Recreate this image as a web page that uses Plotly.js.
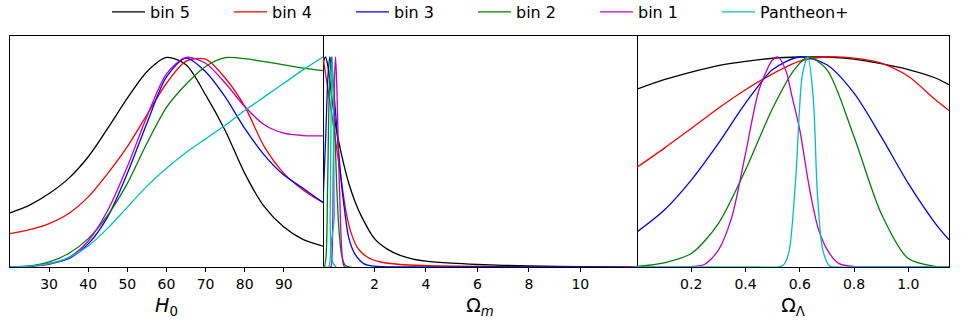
<!DOCTYPE html>
<html>
<head>
<meta charset="utf-8">
<script src="https://cdn.plot.ly/plotly-3.0.1.min.js"></script>
<style>
  html, body { margin: 0; padding: 0; background: #fff; }
  #chart { width: 963px; height: 335px; }
</style>
</head>
<body>
<div id="chart"></div>
<script>
// series names and colours (legend order)
const seriesNames = ['bin 5', 'bin 4', 'bin 3', 'bin 2', 'bin 1', 'Pantheon+'];
const seriesColors = ['#000000', '#ff0000', '#0000ff', '#008000', '#bf00bf', '#00bfbf'];

// H0 panel, read on a common grid
const h0Grid = [20, 25, 30, 35, 40, 45, 50, 55, 60, 65, 70, 75, 80, 85, 90, 95, 100];
const h0Bin5 = [0.258, 0.295, 0.35, 0.422, 0.525, 0.661, 0.804, 0.93, 0.998, 0.963, 0.82, 0.65, 0.446, 0.287, 0.19, 0.13, 0.099];
const h0Bin4 = [0.159, 0.178, 0.207, 0.255, 0.334, 0.446, 0.573, 0.725, 0.875, 0.98, 0.99, 0.9, 0.765, 0.573, 0.446, 0.366, 0.307];
const h0Bin3 = [0, 0.003, 0.016, 0.04, 0.11, 0.24, 0.446, 0.685, 0.905, 0.995, 0.93, 0.81, 0.66, 0.533, 0.438, 0.374, 0.307];
const h0Bin2 = [0, 0.005, 0.024, 0.064, 0.135, 0.247, 0.398, 0.589, 0.76, 0.87, 0.955, 0.997, 0.992, 0.978, 0.963, 0.947, 0.935];
const h0Bin1 = [0, 0.003, 0.013, 0.045, 0.124, 0.27, 0.478, 0.717, 0.92, 0.998, 0.97, 0.876, 0.764, 0.677, 0.637, 0.626, 0.624];
const h0Pantheon = [0, 0.004, 0.016, 0.045, 0.1, 0.185, 0.285, 0.385, 0.47, 0.545, 0.61, 0.675, 0.745, 0.81, 0.875, 0.94, 1.0];
const h0Ticks = [30, 40, 50, 60, 70, 80, 90];

// Omega_m panel
const omX5 = [0, 0.1, 0.2, 0.35, 0.5, 0.75, 1.0, 1.25, 1.5, 2.0, 2.5, 3.0, 3.5, 4, 5, 6, 7, 8, 10, 12.2];
const omY5 = [0.97, 1.0, 0.95, 0.8, 0.67, 0.52, 0.4, 0.31, 0.24, 0.135, 0.085, 0.055, 0.038, 0.028, 0.018, 0.012, 0.008, 0.005, 0.002, 0.001];
const omX4 = [0, 0.15, 0.35, 0.55, 0.75, 0.9, 1.1, 1.35, 1.75, 2.2, 3, 4, 6, 8, 12.2];
const omY4 = [1.0, 0.88, 0.72, 0.55, 0.38, 0.26, 0.16, 0.09, 0.045, 0.025, 0.012, 0.007, 0.003, 0.001, 0];
const omX3 = [0, 0.1, 0.2, 0.27, 0.35, 0.5, 0.6, 0.75, 0.8, 1.0, 1.25, 1.6, 2, 3, 12.2];
const omY3 = [0.3, 0.6, 0.92, 1.0, 0.93, 0.72, 0.56, 0.36, 0.31, 0.14, 0.06, 0.015, 0.004, 0, 0];
const omX2 = [0, 0.05, 0.12, 0.18, 0.25, 0.33, 0.42, 0.53, 0.62, 0.72, 0.85, 1.0, 12.2];
const omY2 = [0, 0, 0.05, 0.38, 0.85, 1.0, 0.8, 0.4, 0.18, 0.06, 0.01, 0, 0];
const omX1 = [0, 0.3, 0.35, 0.4, 0.45, 0.49, 0.54, 0.6, 0.66, 0.72, 0.78, 0.85, 12.2];
const omY1 = [0, 0, 0.05, 0.45, 0.9, 1.0, 0.85, 0.55, 0.3, 0.1, 0.02, 0, 0];
const omXP = [0, 0.22, 0.28, 0.32, 0.36, 0.40, 0.44, 0.5, 12.2];
const omYP = [0, 0, 0.25, 0.8, 1.0, 0.8, 0.25, 0, 0];
const omTicks = [2, 4, 6, 8, 10];

// Omega_Lambda panel
const olGrid = [0, 0.1, 0.2, 0.3, 0.4, 0.5, 0.6, 0.7, 0.8, 0.9, 1.0, 1.1, 1.15];
const olBin5 = [0.847, 0.892, 0.928, 0.959, 0.979, 0.994, 1.0, 1.0, 0.99, 0.968, 0.94, 0.9, 0.868];
const olBin4 = [0.475, 0.565, 0.66, 0.756, 0.844, 0.92, 0.98, 1.0, 0.995, 0.971, 0.908, 0.796, 0.745];
const olBin3 = [0.167, 0.27, 0.414, 0.589, 0.78, 0.94, 1.0, 0.963, 0.828, 0.621, 0.398, 0.207, 0.13];
const olX2 = [0, 0.1, 0.2, 0.3, 0.4, 0.5, 0.58, 0.63, 0.7, 0.8, 0.9, 1.0, 1.1, 1.15];
const olY2 = [0.003, 0.02, 0.064, 0.207, 0.462, 0.756, 0.94, 1.0, 0.94, 0.62, 0.255, 0.04, 0.003, 0];
const olX1 = [0, 0.15, 0.2, 0.25, 0.3, 0.35, 0.4, 0.45, 0.5, 0.52, 0.55, 0.57, 0.6, 0.635, 0.67, 0.71, 0.745, 0.8, 0.9, 1.15];
const olY1 = [0, 0, 0.002, 0.013, 0.08, 0.24, 0.54, 0.844, 0.987, 1.0, 0.93, 0.82, 0.653, 0.38, 0.175, 0.064, 0.016, 0.002, 0, 0];
const olXP = [0, 0.45, 0.52, 0.54, 0.56, 0.585, 0.61, 0.63, 0.65, 0.665, 0.685, 0.71, 0.73, 0.8, 1.15];
const olYP = [0, 0, 0, 0.01, 0.07, 0.42, 0.92, 1.0, 0.8, 0.35, 0.08, 0.005, 0, 0, 0];
const olTicks = [0.2, 0.4, 0.6, 0.8, 1.0];

const panels = [
    { xa: 'x', ya: 'y', xs: [h0Grid, h0Grid, h0Grid, h0Grid, h0Grid, h0Grid],
      ys: [h0Bin5, h0Bin4, h0Bin3, h0Bin2, h0Bin1, h0Pantheon] },
    { xa: 'x2', ya: 'y2', xs: [omX5, omX4, omX3, omX2, omX1, omXP],
      ys: [omY5, omY4, omY3, omY2, omY1, omYP] },
    { xa: 'x3', ya: 'y3', xs: [olGrid, olGrid, olGrid, olX2, olX1, olXP],
      ys: [olBin5, olBin4, olBin3, olY2, olY1, olYP] }
];

const traces = [];
panels.forEach((p, pi) => {
    seriesNames.forEach((name, i) => {
        traces.push({
            x: p.xs[i], y: p.ys[i],
            xaxis: p.xa, yaxis: p.ya,
            type: 'scatter', mode: 'lines',
            name: name, legendgroup: name,
            showlegend: pi === 0,
            line: { color: seriesColors[i], width: 1.3, shape: 'spline', smoothing: 0.8 },
            hoverinfo: 'skip'
        });
    });
});
// empty legend slot so the last label is not clipped by the fixed entry width
traces.push({
    x: [null], y: [null], type: 'scatter', mode: 'lines', name: ' ',
    line: { width: 0, color: 'rgba(0,0,0,0)' }, showlegend: true, hoverinfo: 'skip'
});

const frame = {
    showline: true, linecolor: '#000', linewidth: 1,
    showgrid: false, zeroline: false
};
const xBase = Object.assign({}, frame, {
    mirror: true,
    ticks: 'outside', ticklen: 4, tickwidth: 1, tickcolor: '#000',
    tickfont: { size: 14, color: '#000' }
});
const yBase = Object.assign({}, frame, {
    range: [0, 1.1], showticklabels: false, ticks: '', domain: [0, 1]
});
const titleFont = { size: 19, color: '#000' };

const layout = {
    width: 963, height: 335,
    margin: { l: 10, r: 14, t: 36, b: 68 },
    paper_bgcolor: '#fff', plot_bgcolor: '#fff',
    font: { family: 'DejaVu Sans', size: 14, color: '#000' },
    showlegend: true,
    legend: {
        orientation: 'h', xref: 'container', x: 107 / 963, xanchor: 'left',
        yref: 'container', y: 1 - 12 / 335, yanchor: 'middle',
        font: { size: 16 }, itemwidth: 33, entrywidth: 74, traceorder: 'normal'
    },
    xaxis: Object.assign({}, xBase, {
        domain: [0, 0.3333], range: [20, 100], tickvals: h0Ticks, anchor: 'y',
        title: { text: '<i>H</i><sub>0</sub>', font: titleFont, standoff: 7 }
    }),
    xaxis2: Object.assign({}, xBase, {
        domain: [0.3333, 0.6677], range: [0, 12.2], tickvals: omTicks, anchor: 'y2',
        title: { text: 'Ω<sub><i>m</i></sub>', font: titleFont, standoff: 7 }
    }),
    xaxis3: Object.assign({}, xBase, {
        domain: [0.6677, 1], range: [0, 1.15], tickvals: olTicks, anchor: 'y3',
        tickformat: '.1f',
        title: { text: 'Ω<sub>Λ</sub>', font: titleFont, standoff: 7 }
    }),
    yaxis: Object.assign({}, yBase, { anchor: 'x', mirror: true }),
    yaxis2: Object.assign({}, yBase, { anchor: 'x2', side: 'right' }),
    yaxis3: Object.assign({}, yBase, { anchor: 'x3', side: 'right' })
};

Plotly.newPlot('chart', traces, layout, { staticPlot: true });
</script>
</body>
</html>
